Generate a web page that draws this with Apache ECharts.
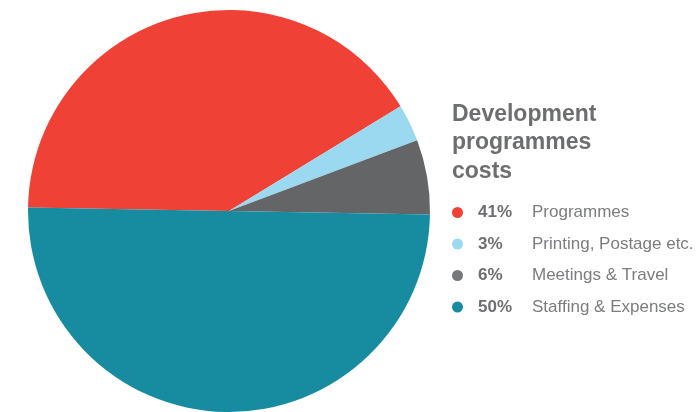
<!DOCTYPE html>
<html><head><meta charset="utf-8">
<script src="https://cdn.jsdelivr.net/npm/echarts@6/dist/echarts.min.js"></script>
<style>html,body{margin:0;padding:0;background:#fff}#c{width:700px;height:412px}</style>
</head><body><div id="c"></div>
<script>
const categories = ["Programmes", "Printing, Postage etc.", "Meetings & Travel", "Staffing & Expenses"];
const values = [41, 3, 6, 50];
const colors = ["#EF4136", "#9AD9EF", "#646567", "#178CA1"];
const legendColors = ["#EF4136", "#9AD9EF", "#77787b", "#178CA1"];
const chartTitle = "Development\nprogrammes\ncosts";

const chart = echarts.init(document.getElementById('c'));
const data = categories.map((n, i) => ({ name: n, value: values[i], itemStyle: { color: colors[i] } }));
chart.setOption({
  animation: false,
  title: {
    text: chartTitle, left: 447, top: 95,
    textStyle: { fontFamily: 'Liberation Sans', fontSize: 23, fontWeight: 'bold', color: '#6d6e70', lineHeight: 28.5 }
  },
  legend: {
    orient: 'vertical', left: 447, top: 199, itemGap: 14.5,
    icon: 'circle', itemWidth: 11, itemHeight: 11,
    data: categories.map((n, i) => ({ name: n, itemStyle: { color: legendColors[i] } })),
    formatter: function (name) {
      const i = categories.indexOf(name);
      return '{p|' + values[i] + '%}{n|' + name + '}';
    },
    textStyle: {
      rich: {
        p: { fontFamily: 'Liberation Sans', fontSize: 17, fontWeight: 'bold', color: '#6d6e70', width: 54, padding: [0, 0, 0, 10], lineHeight: 19 },
        n: { fontFamily: 'Liberation Sans', fontSize: 17, color: '#7b7c7e', lineHeight: 19 }
      }
    }
  },
  series: [{
    type: 'pie', center: [229, 211], radius: 201, startAngle: 179, clockwise: true,
    label: { show: false }, labelLine: { show: false }, emphasis: { disabled: true },
    itemStyle: { borderWidth: 0 },
    data: data
  }]
});
</script></body></html>
